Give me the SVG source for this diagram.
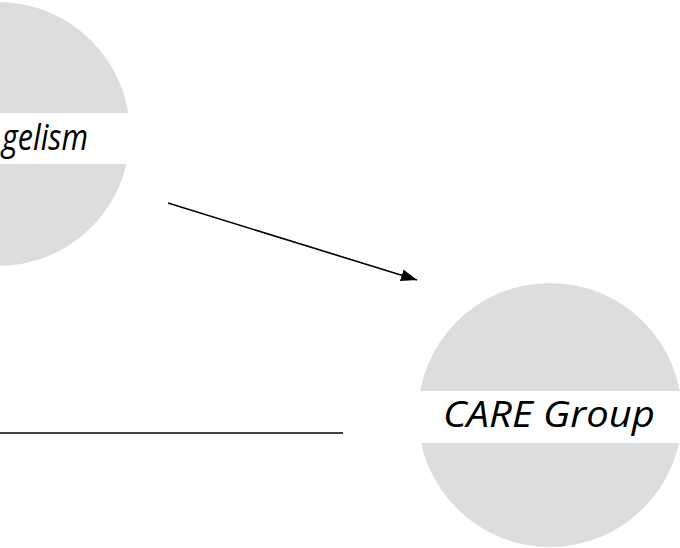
<svg xmlns="http://www.w3.org/2000/svg" width="680" height="548" viewBox="0 0 680 548">
  <style>
    .disc { fill: #dcdddf; }
    .band { fill: #ffffff; }
    .label { font-family: "Open Sans", "Liberation Sans", Arial, sans-serif; font-style: italic; font-weight: 500; font-size: 37px; fill: #000000; }
    .conn { stroke: #000000; stroke-width: 1.6; fill: none; }
  </style>
  <defs>
    <marker id="arrowbig" viewBox="0 0 16 12" refX="16" refY="6" markerWidth="16" markerHeight="12" markerUnits="userSpaceOnUse" orient="auto">
      <path d="M0,0 L16,6 L0,12 z" fill="#000000"/>
    </marker>
  </defs>
  <rect width="680" height="548" fill="#ffffff"/>
  <g id="evangelism">
    <circle class="disc" cx="-2" cy="134" r="132"/>
    <rect class="band" x="0" y="113" width="140" height="51"/>
    <text class="label" x="2" y="150" textLength="86" lengthAdjust="spacingAndGlyphs">gelism</text>
  </g>
  <g id="care-group">
    <circle class="disc" cx="550" cy="415" r="132"/>
    <rect class="band" x="410" y="391" width="270" height="52"/>
    <text class="label" x="443" y="427" textLength="212" lengthAdjust="spacingAndGlyphs">CARE Group</text>
  </g>
  <g id="connectors">
    <line class="conn" x1="168" y1="203" x2="417" y2="280" marker-end="url(#arrowbig)"/>
    <line class="conn" x1="0" y1="433" x2="343" y2="433"/>
  </g>
</svg>
